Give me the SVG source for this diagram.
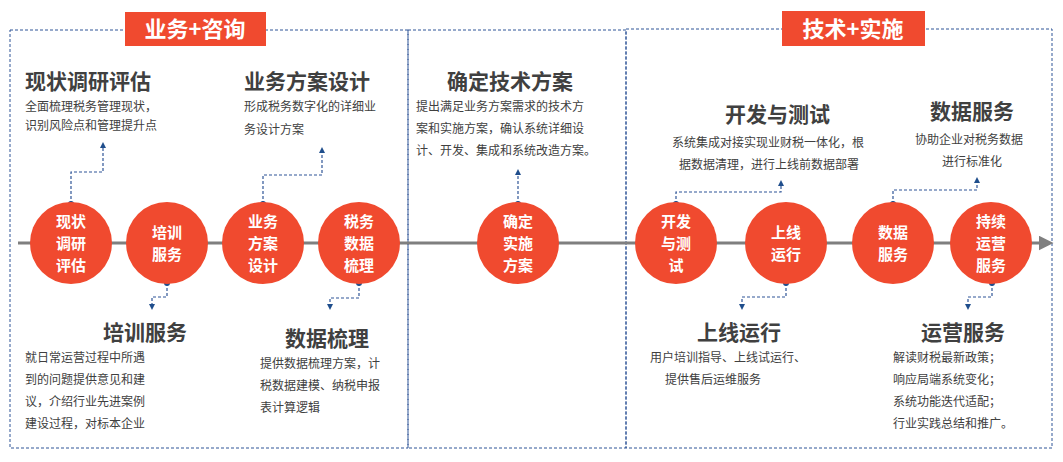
<svg xmlns="http://www.w3.org/2000/svg" width="1063" height="462" viewBox="0 0 1063 462">
<defs>
<style>
.c{fill:#f04a2f}
.ct{font-family:"Noto Sans CJK SC",sans-serif;font-weight:bold;font-size:15px;fill:#fff;text-anchor:middle}
.h{font-family:"Noto Sans CJK SC",sans-serif;font-weight:bold;font-size:21px;fill:#404040}
.d{font-family:"Noto Sans CJK SC",sans-serif;font-size:12px;fill:#404040}
.box{fill:none;stroke:#2f5597;stroke-dasharray:3 2;stroke-width:1}
.ln{fill:none;stroke:#2f5597;stroke-dasharray:3 2;stroke-width:1.2}
.dot{fill:#1f4e8c}
.tag{font-family:"Noto Sans CJK SC",sans-serif;font-weight:bold;font-size:22px;fill:#fff;text-anchor:middle}
</style>
<marker id="a" viewBox="0 0 10 10" refX="5" refY="5" markerWidth="5" markerHeight="5" orient="auto"><path d="M0,0L10,5L0,10z" fill="#1f4e8c"/></marker>
<marker id="g" viewBox="0 0 10 10" refX="5" refY="5" markerWidth="5" markerHeight="5" orient="auto"><path d="M0,0L10,5L0,10z" fill="#7f7f7f"/></marker>
</defs>
<rect width="1063" height="462" fill="#fff"/>
<g id="frames">
<rect class="box" x="10" y="30" width="398" height="418"/>
<rect class="box" x="408" y="30" width="218" height="418"/>
<rect class="box" x="626" y="29" width="426" height="419"/>
</g>
<g id="tags">
<rect x="125" y="12" width="141" height="34" fill="#f04a2f"/>
<text class="tag" x="195" y="37">业务+咨询</text>
<rect x="782" y="11" width="143" height="35" fill="#f04a2f"/>
<text class="tag" x="853" y="37">技术+实施</text>
</g>
<g id="connectors">
<line x1="18" y1="243" x2="1046" y2="243" stroke="#7f7f7f" stroke-width="3" marker-end="url(#g)"/>
<path class="ln" d="M71,204V172H103V145" marker-end="url(#a)"/>
<path class="ln" d="M263,204V175H322V150" marker-end="url(#a)"/>
<path class="ln" d="M518,204V172" marker-end="url(#a)"/>
<path class="ln" d="M676,204V192H781V183" marker-end="url(#a)"/>
<path class="ln" d="M893,204V190H977V180" marker-end="url(#a)"/>
<path class="ln" d="M167,283V297H152V307" marker-end="url(#a)"/>
<path class="ln" d="M359,283V298H330V307" marker-end="url(#a)"/>
<path class="ln" d="M786,283V297H742V307" marker-end="url(#a)"/>
<path class="ln" d="M992,283V297H968V307" marker-end="url(#a)"/>
<g class="dot"><circle cx="71" cy="204" r="3"/><circle cx="263" cy="204" r="3"/><circle cx="518" cy="204" r="3"/><circle cx="676" cy="204" r="3"/><circle cx="893" cy="204" r="3"/><circle cx="167" cy="283" r="3"/><circle cx="359" cy="283" r="3"/><circle cx="786" cy="283" r="3"/><circle cx="992" cy="283" r="3"/></g>
</g>
<g id="n1"><circle class="c" cx="71" cy="243" r="41"/><text class="ct" x="71" y="227">现状</text><text class="ct" x="71" y="249">调研</text><text class="ct" x="71" y="271">评估</text></g>
<g id="n2"><circle class="c" cx="167" cy="243" r="41"/><text class="ct" x="167" y="238">培训</text><text class="ct" x="167" y="260">服务</text></g>
<g id="n3"><circle class="c" cx="263" cy="243" r="41"/><text class="ct" x="263" y="227">业务</text><text class="ct" x="263" y="249">方案</text><text class="ct" x="263" y="271">设计</text></g>
<g id="n4"><circle class="c" cx="359" cy="243" r="41"/><text class="ct" x="359" y="227">税务</text><text class="ct" x="359" y="249">数据</text><text class="ct" x="359" y="271">梳理</text></g>
<g id="n5"><circle class="c" cx="518" cy="243" r="41"/><text class="ct" x="518" y="227">确定</text><text class="ct" x="518" y="249">实施</text><text class="ct" x="518" y="271">方案</text></g>
<g id="n6"><circle class="c" cx="676" cy="243" r="41"/><text class="ct" x="676" y="227">开发</text><text class="ct" x="676" y="249">与测</text><text class="ct" x="676" y="271">试</text></g>
<g id="n7"><circle class="c" cx="786" cy="243" r="41"/><text class="ct" x="786" y="238">上线</text><text class="ct" x="786" y="260">运行</text></g>
<g id="n8"><circle class="c" cx="893" cy="243" r="41"/><text class="ct" x="893" y="238">数据</text><text class="ct" x="893" y="260">服务</text></g>
<g id="n9"><circle class="c" cx="991" cy="243" r="41"/><text class="ct" x="991" y="227">持续</text><text class="ct" x="991" y="249">运营</text><text class="ct" x="991" y="271">服务</text></g>
<g id="t1"><text class="h" x="25" y="89">现状调研评估</text><text class="d" x="25" y="111">全面梳理税务管理现状，</text><text class="d" x="25" y="130">识别风险点和管理提升点</text></g>
<g id="t2"><text class="h" x="244" y="89">业务方案设计</text><text class="d" x="244" y="111">形成税务数字化的详细业</text><text class="d" x="244" y="134">务设计方案</text></g>
<g id="t3"><text class="h" x="447" y="89">确定技术方案</text><text class="d" x="416" y="111">提出满足业务方案需求的技术方</text><text class="d" x="416" y="133">案和实施方案，确认系统详细设</text><text class="d" x="416" y="155">计、开发、集成和系统改造方案。</text></g>
<g id="t4"><text class="h" x="725" y="122">开发与测试</text><text class="d" x="672" y="147">系统集成对接实现业财税一体化，根</text><text class="d" x="679" y="169">据数据清理，进行上线前数据部署</text></g>
<g id="t5"><text class="h" x="930" y="119">数据服务</text><text class="d" x="915" y="144">协助企业对税务数据</text><text class="d" x="942" y="166">进行标准化</text></g>
<g id="t6"><text class="h" x="103" y="340">培训服务</text><text class="d" x="25" y="362">就日常运营过程中所遇</text><text class="d" x="25" y="384">到的问题提供意见和建</text><text class="d" x="25" y="406">议，介绍行业先进案例</text><text class="d" x="25" y="428">建设过程，对标本企业</text></g>
<g id="t7"><text class="h" x="285" y="346">数据梳理</text><text class="d" x="260" y="368">提供数据梳理方案，计</text><text class="d" x="260" y="390">税数据建模、纳税申报</text><text class="d" x="260" y="412">表计算逻辑</text></g>
<g id="t8"><text class="h" x="697" y="340">上线运行</text><text class="d" x="650" y="362">用户培训指导、上线试运行、</text><text class="d" x="665" y="384">提供售后运维服务</text></g>
<g id="t9"><text class="h" x="921" y="340">运营服务</text><text class="d" x="893" y="362">解读财税最新政策；</text><text class="d" x="893" y="384">响应局端系统变化；</text><text class="d" x="893" y="406">系统功能迭代适配；</text><text class="d" x="893" y="428">行业实践总结和推广。</text></g>
</svg>
